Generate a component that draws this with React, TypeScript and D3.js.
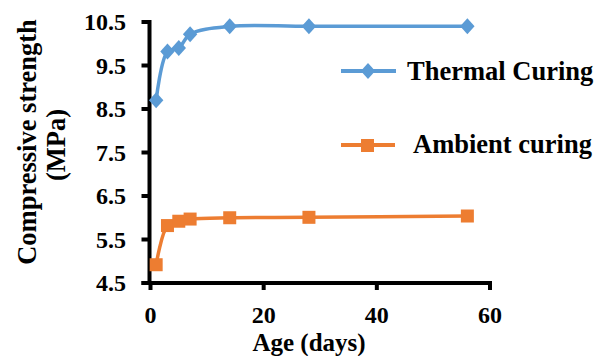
import React from "react";
import * as d3 from "d3";

const days = [1, 3, 5, 7, 14, 28, 56];
const thermal = [8.7, 9.82, 9.9, 10.22, 10.4, 10.4, 10.4];
const ambient = [4.92, 5.82, 5.92, 5.97, 6.0, 6.01, 6.04];
const yTicks = [4.5, 5.5, 6.5, 7.5, 8.5, 9.5, 10.5];
const xTicks = [0, 20, 40, 60];
const seriesNames = ["Thermal Curing", "Ambient curing"];

const BLUE = "#5B9BD5";
const ORANGE = "#ED7D31";
const FONT = "Liberation Serif, Tinos, DejaVu Serif, serif";

export default function App() {
  const W = 609, H = 356;
  const x = d3.scaleLinear().domain([0, 60]).range([150.5, 490]);
  const y = d3.scaleLinear().domain([4.5, 10.5]).range([283, 22]);
  const line = d3
    .line<number>()
    .x((_, i) => x(days[i]))
    .y((d) => y(d))
    .curve(d3.curveCatmullRom.alpha(0.5));

  const axisX = x(0) - 1;
  const axisY = y(4.5);

  const diamond = (cx: number, cy: number, r = 8) =>
    `M${cx},${cy - r}L${cx + r * 0.9},${cy}L${cx},${cy + r}L${cx - r * 0.9},${cy}Z`;

  const ts: React.CSSProperties = { fontFamily: FONT, fontWeight: 700 };

  return (
    <svg
      width={W}
      height={H}
      style={{ position: "absolute", left: 0, top: 0, background: "#fff" }}
    >
      {/* y axis */}
      <line x1={axisX} x2={axisX} y1={y(10.5) - 2} y2={axisY + 2} stroke="#000" strokeWidth={4} />
      {yTicks.map((t) => (
        <g key={t}>
          <line x1={axisX - 8} x2={axisX} y1={y(t)} y2={y(t)} stroke="#000" strokeWidth={4} />
          <text x={126} y={y(t)} dy="0.34em" textAnchor="end" fontSize={24} style={ts}>
            {t.toFixed(1)}
          </text>
        </g>
      ))}
      {/* x axis */}
      <line x1={axisX - 8} x2={x(60) + 2} y1={axisY} y2={axisY} stroke="#000" strokeWidth={4} />
      {xTicks.map((t) => (
        <g key={t}>
          <line x1={x(t)} x2={x(t)} y1={axisY} y2={axisY + 7} stroke="#000" strokeWidth={4} />
          <text x={x(t)} y={323} textAnchor="middle" fontSize={24} style={ts}>
            {t}
          </text>
        </g>
      ))}
      <text x={309} y={351} textAnchor="middle" fontSize={25} style={ts}>
        Age (days)
      </text>
      <text transform="translate(36,142) rotate(-90)" textAnchor="middle" fontSize={26.5} style={ts}>
        Compressive strength
      </text>
      <text transform="translate(65,145) rotate(-90)" textAnchor="middle" fontSize={26.5} style={ts}>
        (MPa)
      </text>

      {/* series */}
      <path d={line(thermal) || ""} fill="none" stroke={BLUE} strokeWidth={3.5} />
      {thermal.map((v, i) => (
        <path key={i} d={diamond(x(days[i]), y(v))} fill={BLUE} />
      ))}
      <path d={line(ambient) || ""} fill="none" stroke={ORANGE} strokeWidth={3.5} />
      {ambient.map((v, i) => (
        <rect key={i} x={x(days[i]) - 6.5} y={y(v) - 6.5} width={13} height={13} fill={ORANGE} />
      ))}

      {/* legend */}
      <line x1={341} x2={396} y1={71} y2={71} stroke={BLUE} strokeWidth={4} />
      <path d={diamond(368, 71, 8)} fill={BLUE} />
      <text x={407} y={80} fontSize={26.5} style={ts}>
        {seriesNames[0]}
      </text>
      <line x1={341} x2={395} y1={145} y2={145} stroke={ORANGE} strokeWidth={4} />
      <rect x={361} y={139} width={13} height={13} fill={ORANGE} />
      <text x={413} y={153} fontSize={26.5} style={ts}>
        {seriesNames[1]}
      </text>
    </svg>
  );
}
